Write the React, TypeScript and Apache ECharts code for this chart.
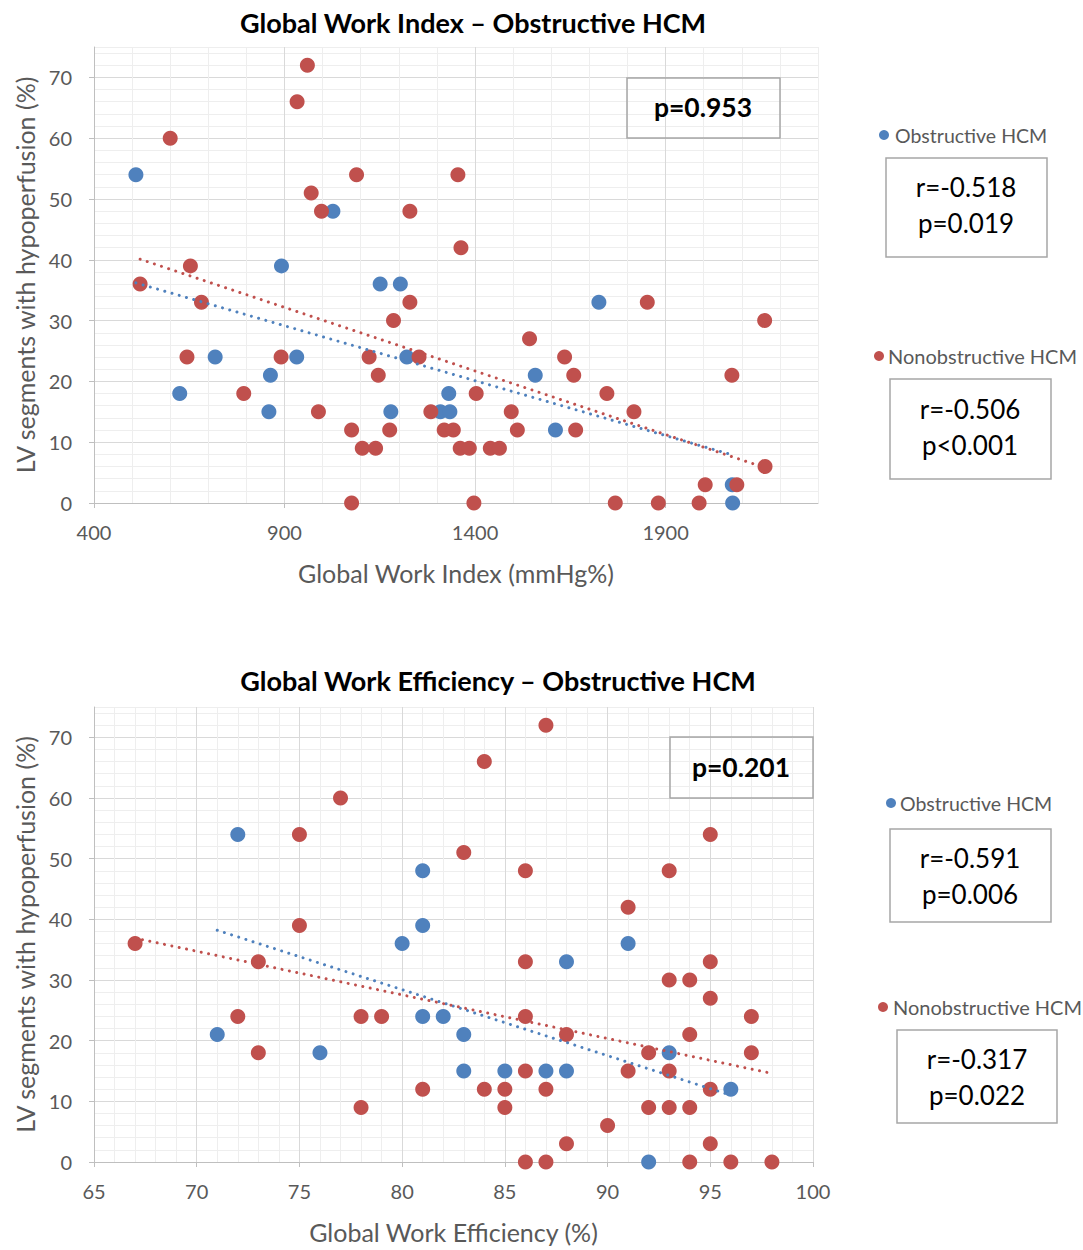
import React, { useEffect, useRef } from 'react';
import * as echarts from 'echarts';

// ---------- DATA ----------
// Global Work Index (mmHg%) vs LV segments with hypoperfusion (%)
const gwiObstructive: number[][] = [
  [510, 54], [1027, 48], [892, 39], [1151, 36], [1204, 36], [1725, 33], [718, 24], [932, 24],
  [1221, 24], [863, 21], [1558, 21], [625, 18], [1331, 18], [859, 15], [1179, 15], [1309, 15],
  [1334, 15], [1611, 12], [2075, 3], [2076, 0],
];
const gwiNonobstructive: number[][] = [
  [960, 72], [933, 66], [600, 60], [1089, 54], [1355, 54], [970, 51], [997, 48], [1229, 48],
  [1363, 42], [653, 39], [521, 36], [682, 33], [1229, 33], [1852, 33], [1186, 30], [2160, 30],
  [1543, 27], [644, 24], [891, 24], [1122, 24], [1253, 24], [1635, 24], [1146, 21], [1659, 21],
  [2074, 21], [793, 18], [1403, 18], [1746, 18], [989, 15], [1284, 15], [1495, 15], [1817, 15],
  [1076, 12], [1176, 12], [1319, 12], [1343, 12], [1511, 12], [1664, 12], [1104, 9], [1139, 9],
  [1361, 9], [1385, 9], [1440, 9], [1464, 9], [2161, 6], [2004, 3], [2087, 3], [1076, 0],
  [1397, 0], [1768, 0], [1881, 0], [1988, 0],
];
const gwiObstructiveTrend: number[][] = [[510, 36.2], [2076, 7.9]];
const gwiNonobstructiveTrend: number[][] = [[521, 40.1], [2161, 5.8]];

// Global Work Efficiency (%) vs LV segments with hypoperfusion (%)
const gweObstructive: number[][] = [
  [72, 54], [81, 48], [81, 39], [80, 36], [91, 36], [88, 33], [81, 24], [82, 24], [71, 21],
  [83, 21], [76, 18], [93, 18], [83, 15], [85, 15], [87, 15], [88, 15], [96, 12], [92, 0],
];
const gweNonobstructive: number[][] = [
  [87, 72], [84, 66], [77, 60], [75, 54], [95, 54], [83, 51], [86, 48], [93, 48], [91, 42],
  [75, 39], [67, 36], [73, 33], [86, 33], [95, 33], [93, 30], [94, 30], [95, 27], [72, 24],
  [78, 24], [79, 24], [86, 24], [97, 24], [88, 21], [94, 21], [73, 18], [92, 18], [97, 18],
  [86, 15], [91, 15], [93, 15], [81, 12], [84, 12], [85, 12], [87, 12], [95, 12], [78, 9],
  [85, 9], [92, 9], [93, 9], [94, 9], [90, 6], [88, 3], [95, 3], [86, 0], [87, 0], [94, 0],
  [96, 0], [98, 0],
];
const gweObstructiveTrend: number[][] = [[71, 38.2], [96, 11.0]];
const gweNonobstructiveTrend: number[][] = [[67, 36.9], [98, 14.6]];

// Axis ranges / ticks
const gwiXRange = { min: 400, max: 2300, major: 500, minor: 100 };
const gweXRange = { min: 65, max: 100, major: 5, minor: 1 };
const yRange = { min: 0, max: 75, major: 10, minor: 2 };

// Texts
const titles = ['Global Work Index – Obstructive HCM', 'Global Work Efficiency – Obstructive HCM'];
const xNames = ['Global Work Index (mmHg%)', 'Global Work Efficiency (%)'];
const yName = 'LV segments with hypoperfusion (%)';
const seriesNames = ['Obstructive HCM', 'Nonobstructive HCM'];
const groupP = ['p=0.953', 'p=0.201'];
const gwiStats = [['r=-0.518', 'p=0.019'], ['r=-0.506', 'p<0.001']];
const gweStats = [['r=-0.591', 'p=0.006'], ['r=-0.317', 'p=0.022']];

// ---------- STYLE ----------
const FONT = 'Lato';
const BLUE = '#4F81BD';
const RED = '#C0504D';
const AXIS_GREY = '#bfbfbf';
const LABEL_GREY = '#595959';
const GRID_COLORS = ['#d9d9d9', '#eeeeee', '#eeeeee', '#eeeeee', '#eeeeee'];

function fineAxis(gridIndex: number, r: { min: number; max: number; minor: number }, pos: string) {
  return {
    type: 'value', gridIndex, min: r.min, max: r.max, interval: r.minor, position: pos,
    axisLine: { show: false }, axisTick: { show: false }, axisLabel: { show: false },
    splitLine: { show: true, lineStyle: { color: GRID_COLORS, width: 1 } },
  };
}

function coarseAxis(gridIndex: number, r: { min: number; max: number; major: number }, pos: string, extra: any) {
  return {
    type: 'value', gridIndex, min: r.min, max: r.max, interval: r.major, position: pos,
    axisLine: { show: true, lineStyle: { color: AXIS_GREY, width: 1 } },
    axisTick: { show: true, inside: false, length: 5, lineStyle: { color: AXIS_GREY } },
    splitLine: { show: false },
    ...extra,
  };
}

function scatter(name: string, data: number[][], color: string, axisIndex: number) {
  return {
    type: 'scatter', name, data, xAxisIndex: axisIndex, yAxisIndex: axisIndex,
    symbol: 'circle', symbolSize: 15, itemStyle: { color, opacity: 1 }, z: 3,
  };
}

function trend(name: string, data: number[][], color: string, axisIndex: number) {
  return {
    type: 'line', name: name + ' trend', data, xAxisIndex: axisIndex, yAxisIndex: axisIndex,
    showSymbol: false, symbol: 'none', z: 4,
    lineStyle: { color, width: 3, type: [0.01, 7.5], cap: 'round' },
  };
}

const text = (x: number, y: number, t: string, size: number, opts: any = {}) => ({
  type: 'text', x, y, z: 100,
  style: {
    text: t, fill: opts.color || '#000',
    font: `${opts.bold ? 'bold ' : ''}${size}px ${FONT}`,
    align: opts.align || 'center', verticalAlign: 'middle',
  },
});
const box = (x: number, y: number, w: number, h: number) => ({
  type: 'rect', z: 90, shape: { x, y, width: w, height: h },
  style: { fill: 'none', stroke: '#a6a6a6', lineWidth: 1.5 },
});
const dot = (x: number, y: number, color: string) => ({
  type: 'circle', z: 100, shape: { cx: x, cy: y, r: 5 }, style: { fill: color },
});

export default function App() {
  const ref = useRef<HTMLDivElement>(null);
  useEffect(() => {
    if (!ref.current) return;
    const chart = echarts.init(ref.current, null, { renderer: 'svg' });
    const plain = (v: number) => String(v);
    const labelStyle = { fontFamily: FONT, fontSize: 20, color: LABEL_GREY, formatter: plain };
    const yLabel = { ...labelStyle, margin: 22, showMaxLabel: false };
    const xLabel = { ...labelStyle, margin: 19 };
    const nameStyle = { fontFamily: FONT, fontSize: 25, color: LABEL_GREY };
    const option: any = {
      animation: false,
      backgroundColor: '#ffffff',
      grid: [
        { left: 94, top: 47, width: 724, height: 456 },
        { left: 94, top: 707, width: 719, height: 455 },
      ],
      xAxis: [
        fineAxis(0, gwiXRange, 'bottom'),
        coarseAxis(0, gwiXRange, 'bottom', {
          axisLabel: { ...xLabel, showMaxLabel: false },
          name: xNames[0], nameLocation: 'middle', nameGap: 57, nameTextStyle: nameStyle,
        }),
        fineAxis(1, gweXRange, 'bottom'),
        coarseAxis(1, gweXRange, 'bottom', {
          axisLabel: { ...xLabel },
          name: xNames[1], nameLocation: 'middle', nameGap: 57, nameTextStyle: nameStyle,
        }),
      ],
      yAxis: [
        fineAxis(0, yRange, 'left'),
        coarseAxis(0, yRange, 'left', {
          axisLabel: yLabel,
          name: yName, nameLocation: 'middle', nameGap: 56, nameRotate: 90, nameTextStyle: nameStyle,
        }),
        fineAxis(1, yRange, 'left'),
        coarseAxis(1, yRange, 'left', {
          axisLabel: yLabel,
          name: yName, nameLocation: 'middle', nameGap: 56, nameRotate: 90, nameTextStyle: nameStyle,
        }),
      ],
      series: [
        scatter(seriesNames[0], gwiObstructive, BLUE, 0),
        scatter(seriesNames[1], gwiNonobstructive, RED, 0),
        trend(seriesNames[0], gwiObstructiveTrend, BLUE, 0),
        trend(seriesNames[1], gwiNonobstructiveTrend, RED, 0),
        scatter(seriesNames[0], gweObstructive, BLUE, 2),
        scatter(seriesNames[1], gweNonobstructive, RED, 2),
        trend(seriesNames[0], gweObstructiveTrend, BLUE, 2),
        trend(seriesNames[1], gweNonobstructiveTrend, RED, 2),
      ],
      graphic: [
        // top chart
        text(473, 22, titles[0], 27, { bold: true }),
        box(627, 78, 153, 60),
        text(703, 107, groupP[0], 26.5, { bold: true }),
        dot(884, 135, BLUE),
        text(895, 135, seriesNames[0], 19.5, { color: LABEL_GREY, align: 'left' }),
        box(886, 158, 161, 99),
        text(966, 187, gwiStats[0][0], 26),
        text(966, 223, gwiStats[0][1], 26),
        dot(879, 356, RED),
        text(888, 356, seriesNames[1], 20, { color: LABEL_GREY, align: 'left' }),
        box(890, 379, 161, 100),
        text(970, 409, gwiStats[1][0], 26),
        text(970, 445, gwiStats[1][1], 26),
        // bottom chart
        text(498, 680, titles[1], 27, { bold: true }),
        box(670, 737, 143, 61),
        text(741, 767, groupP[1], 26.5, { bold: true }),
        dot(891, 803, BLUE),
        text(900, 803, seriesNames[0], 19.5, { color: LABEL_GREY, align: 'left' }),
        box(890, 829, 161, 93),
        text(970, 858, gweStats[0][0], 26),
        text(970, 894, gweStats[0][1], 26),
        dot(883, 1007, RED),
        text(893, 1007, seriesNames[1], 20, { color: LABEL_GREY, align: 'left' }),
        box(897, 1030, 160, 93),
        text(977, 1059, gweStats[1][0], 26),
        text(977, 1095, gweStats[1][1], 26),
      ],
    };
    chart.setOption(option);
    return () => chart.dispose();
  }, []);
  return (
    <div
      ref={ref}
      style={{ position: 'fixed', left: 0, top: 0, width: 1083, height: 1250, background: '#fff' }}
    />
  );
}
